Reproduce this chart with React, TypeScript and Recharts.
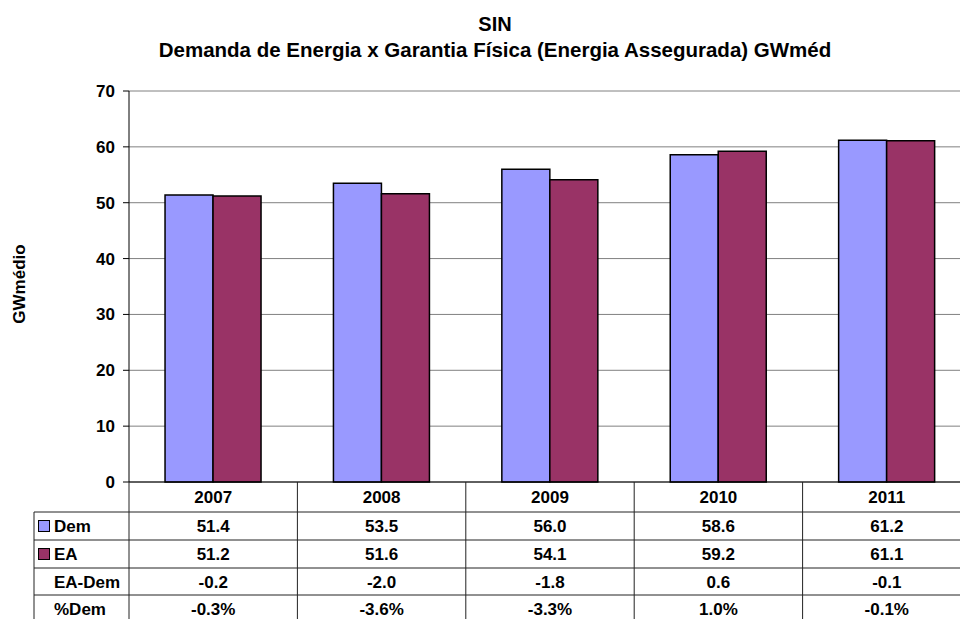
import React from 'react';
import { BarChart, Bar, XAxis, YAxis, CartesianGrid } from 'recharts';

const categories = ['2007', '2008', '2009', '2010', '2011'];
const demValues = [51.4, 53.5, 56.0, 58.6, 61.2];
const eaValues = [51.2, 51.6, 54.1, 59.2, 61.1];
const diffLabels = ['-0.2', '-2.0', '-1.8', '0.6', '-0.1'];
const pctLabels = ['-0.3%', '-3.6%', '-3.3%', '1.0%', '-0.1%'];
const yTicks = [0, 10, 20, 30, 40, 50, 60, 70];
const rowLabels = ['Dem', 'EA', 'EA-Dem', '%Dem'];

const DEM_COLOR = '#9999FF';
const EA_COLOR = '#993366';
const FONT = '"Liberation Sans", Arial, sans-serif';
const LINE = '#222222';

const data = categories.map((c, i) => ({ year: c, Dem: demValues[i], EA: eaValues[i] }));

const rowLines = [30, 58, 86, 113];
const rowCenters = [15, 44, 72, 99.5, 127];
const TABLE_BOTTOM = 150;

const TableTick = (props: any) => {
  const { x, y, payload, index, width } = props;
  const n = categories.length;
  const bw = payload && payload.offset ? payload.offset * 2 : width / n;
  const x0 = x - bw / 2;
  const i = index;
  const cells = [
    categories[i],
    demValues[i].toFixed(1),
    eaValues[i].toFixed(1),
    diffLabels[i],
    pctLabels[i],
  ];
  const textStyle = { fontFamily: FONT, fontWeight: 700, fontSize: 17, fill: '#000' };
  const labelLeft = 34;
  return (
    <g>
      <line x1={x0} x2={x0} y1={y} y2={y + TABLE_BOTTOM} stroke={LINE} strokeWidth={1} />
      {i === n - 1 && (
        <line x1={x0 + bw} x2={x0 + bw} y1={y} y2={y + TABLE_BOTTOM} stroke={LINE} strokeWidth={1} />
      )}
      {rowLines.map((ly, k) => (
        <line key={k} x1={i === 0 ? labelLeft : x0} x2={x0 + bw} y1={y + ly} y2={y + ly} stroke={LINE} strokeWidth={1} />
      ))}
      {cells.map((t, k) => (
        <text key={k} x={x} y={y + rowCenters[k]} dy="0.36em" textAnchor="middle" style={textStyle}>
          {t}
        </text>
      ))}
      {i === 0 && (
        <g>
          <line x1={labelLeft} x2={labelLeft} y1={y + rowLines[0]} y2={y + TABLE_BOTTOM} stroke={LINE} strokeWidth={1} />
          <rect x={38.5} y={y + rowCenters[1] - 5.5} width={11} height={11} fill={DEM_COLOR} stroke="#000" strokeWidth={1} />
          <rect x={38.5} y={y + rowCenters[2] - 5.5} width={11} height={11} fill={EA_COLOR} stroke="#000" strokeWidth={1} />
          {rowLabels.map((t, k) => (
            <text key={t} x={54} y={y + rowCenters[k + 1]} dy="0.36em" textAnchor="start" style={textStyle}>
              {t}
            </text>
          ))}
        </g>
      )}
    </g>
  );
};

export default function App() {
  return (
    <div
      style={{
        position: 'absolute',
        left: 0,
        top: 0,
        width: 960,
        height: 619,
        overflow: 'hidden',
        background: '#fff',
        fontFamily: FONT,
      }}
    >
      <BarChart
        width={972}
        height={619}
        data={data}
        margin={{ top: 91, right: 1, left: 0, bottom: 0 }}
        barCategoryGap="21.4%"
        barGap={0}
      >
        <CartesianGrid horizontal vertical={false} stroke="#808080" strokeWidth={1} />
        <XAxis
          dataKey="year"
          height={137}
          interval={0}
          axisLine={{ stroke: '#000', strokeWidth: 1 }}
          tickLine={false}
          tickSize={0}
          tickMargin={0}
          tick={<TableTick />}
        />
        <YAxis
          width={129}
          domain={[0, 70]}
          ticks={yTicks}
          interval={0}
          axisLine={{ stroke: '#000', strokeWidth: 1 }}
          tickLine={{ stroke: '#000', strokeWidth: 1 }}
          tickSize={6}
          tickMargin={8}
          tick={{ fontFamily: FONT, fontWeight: 700, fontSize: 17, fill: '#000' }}
        />
        <Bar dataKey="Dem" fill={DEM_COLOR} stroke="#000" strokeWidth={1.5} isAnimationActive={false} />
        <Bar dataKey="EA" fill={EA_COLOR} stroke="#000" strokeWidth={1.5} isAnimationActive={false} />
      </BarChart>
      <svg
        width={960}
        height={619}
        style={{ position: 'absolute', left: 0, top: 0, pointerEvents: 'none' }}
      >
        <text x={495} y={31} textAnchor="middle" style={{ fontFamily: FONT, fontWeight: 700, fontSize: 20 }}>
          SIN
        </text>
        <text x={495} y={57} textAnchor="middle" style={{ fontFamily: FONT, fontWeight: 700, fontSize: 20.5 }}>
          Demanda de Energia x Garantia Física (Energia Assegurada) GWméd
        </text>
        <text
          x={25}
          y={284}
          textAnchor="middle"
          transform="rotate(-90 25 284)"
          style={{ fontFamily: FONT, fontWeight: 700, fontSize: 17 }}
        >
          GWmédio
        </text>
      </svg>
    </div>
  );
}
